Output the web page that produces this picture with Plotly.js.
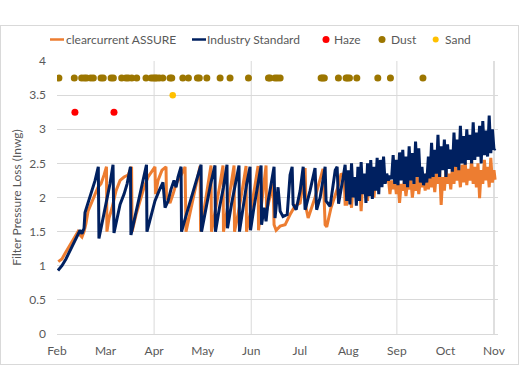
<!DOCTYPE html>
<html><head><meta charset="utf-8">
<script src="https://cdn.plot.ly/plotly-3.0.1.min.js"></script>
<style>
html,body{margin:0;padding:0;background:#fff;}
#wrap{position:relative;width:519px;height:372px;overflow:hidden;}
#chart{width:519px;height:372px;}
#border{position:absolute;left:0;top:25px;width:517px;height:338px;border:1px solid #D9D9D9;pointer-events:none;}
</style></head><body>
<div id="wrap"><div id="chart"></div><div id="border"></div></div>
<script>
// ---------- DATA (x = days since 1 Feb) ----------
const tickLabels = ['Feb','Mar','Apr','May','Jun','Jul','Aug','Sep','Oct','Nov'];
const tickDays = [0,30.33,60.67,91,121.33,151.67,182,212.33,242.67,273];
const gridDays = [60.67,121.33,212.33];
const edgeDay = 273;

const assureDays = [0.8,3.1,5,8.1,11.2,13.1,14.4,15.6,16.9,18.1,19.4,21.9,23.8,25.6,27.5,29.4,30.9,31.2,32.5,34.4,36.9,39.4,41.9,44.4,46.6,46.9,49.4,51.9,54.4,56.9,59.4,61.2,61.6,63.1,65.6,68.1,68.4,70.6,72.5,74.4,76.9,80,80.6,83.5,86.5,89.4,89.7,92,94,96.2,96.5,99,101.5,103.7,104,106.5,108.5,110.6,110.9,113.5,116,118.1,118.4,121,123.5,125.6,125.9,128.5,130.6,130.9,133,135,135.6,136.9,139.4,142.5,145.6,148.8,151.9,153.8,155,155.6,156.9,161.2,164.4,166.2,167.5,168.5,171.2,173.8,175.6,177.5,179.4,180,
181,182,183,184,185,186,187,188,189,190,191,192,193,194,195,196,197,198,199,200,201,202,203,204,205,206,207,208,209,210,211,212,213,214,215,216,217,218,219,220,221,222,223,224,225,226,227,228,229,230,231,232,233,234,235,236,237,238,239,240,241,242,243,244,245,246,247,248,249,250,251,252,253,254,255,256,257,258,259,260,261,262,263,264,265,266,267,268,269,270,271,272,273,273.7];
const assureVals = [1.06,1.1,1.18,1.3,1.43,1.5,1.45,1.42,1.5,1.62,1.8,1.93,2.05,2.15,2.2,2.33,2.45,1.5,1.7,1.85,2.1,2.25,2.3,2.33,2.45,1.5,1.75,1.95,2.15,2.3,2.38,2.45,2.05,2.25,2.4,2.45,2.0,1.92,2.05,2.2,2.3,2.45,1.5,1.8,2.15,2.46,1.5,1.85,2.15,2.47,1.5,1.8,2.15,2.47,1.5,1.85,2.15,2.47,1.5,1.8,2.15,2.46,1.5,1.8,2.15,2.46,1.52,2.05,2.47,1.8,2.0,2.2,1.6,1.52,1.58,1.6,1.75,1.88,1.92,2.2,2.43,1.85,1.7,2.0,2.25,2.42,1.6,1.57,1.85,2.05,2.16,2.35,2.3,1.9,
1.9,2.25,2.0,1.85,2.2,2.05,2.3,1.95,2.2,1.8,2.25,2.1,2.3,1.95,2.28,2.1,2.3,2.0,2.25,2.15,2.3,2.2,2.28,2.22,2.3,2.25,2.28,2.05,2.25,2.12,2.26,2.05,2.22,1.92,2.2,2.1,2.25,2.02,2.22,2.12,2.28,2.0,2.2,2.1,2.3,2.05,2.25,2.15,2.3,2.1,2.35,2.12,2.4,2.15,2.32,2.08,2.38,2.2,2.42,1.89,2.3,2.1,2.4,2.2,2.35,2.12,2.45,2.2,2.5,2.25,2.4,2.15,2.48,2.22,2.52,2.18,2.42,2.25,2.55,2.2,2.45,2.15,2.5,1.99,2.4,2.2,2.55,2.25,2.45,2.15,2.58,2.22,2.4,2.26];

const stdDays = [0.6,3.1,5.6,8.1,10.6,13.1,14.4,15.6,16.9,17.5,19.4,21.9,23.8,25.8,26.2,27.5,29.4,31.2,33.1,35.0,35.6,37.5,39.4,41.9,43.8,45.9,46.2,48.1,50,52.5,54.4,55.9,56.2,58.8,61.2,63.8,66.2,67.5,69.4,71.2,73.1,74.4,75.6,77.5,77.8,80.8,84,87,90,90.3,93,96,98.7,99,101.5,104,106.2,106.5,109,111.5,113.7,114,116.5,118.5,120.6,120.9,123,125.5,127.5,127.8,129.4,130.6,131.9,133.8,135.6,136.2,138.1,139.4,141.2,143.8,145.6,146.9,147.5,149.4,151.9,153.8,155,158.1,161.2,162.2,164.4,167.5,168.1,170.6,173.8,175,175.9,178.8,180,
181,182,183,184,185,186,187,188,189,190,191,192,193,194,195,196,197,198,199,200,201,202,203,204,205,206,207,208,209,210,211,212,213,214,215,216,217,218,219,220,221,222,223,224,225,226,227,228,229,230,231,232,233,234,235,236,237,238,239,240,241,242,243,244,245,246,247,248,249,250,251,252,253,254,255,256,257,258,259,260,261,262,263,264,265,266,267,268,269,270,271,272,273,273.7];
const stdVals = [0.93,1.0,1.1,1.22,1.33,1.45,1.52,1.47,1.55,1.78,1.93,2.1,2.25,2.45,1.40,1.55,1.75,1.98,2.2,2.48,1.48,1.7,1.9,2.05,2.2,2.45,1.45,1.65,1.85,2.1,2.3,2.48,1.5,1.75,1.95,2.1,2.22,1.85,1.95,2.12,2.25,2.15,2.3,2.45,1.5,1.75,2.0,2.25,2.48,1.5,1.85,2.2,2.47,1.5,1.85,2.15,2.48,1.55,1.9,2.2,2.47,1.5,1.9,2.2,2.45,1.52,1.85,2.2,2.47,1.6,1.85,1.65,1.95,2.2,2.45,1.7,2.15,1.8,1.72,1.75,2.33,2.45,1.9,1.82,2.1,2.45,1.82,2.1,2.43,1.82,2.0,2.45,1.95,1.87,2.4,2.45,1.91,2.3,2.48,
1.95,2.4,1.9,2.5,2.0,2.3,1.88,2.45,1.95,2.52,2.05,2.35,1.92,2.5,2.02,2.55,1.98,2.45,2.1,2.58,2.05,2.55,2.15,2.6,2.2,2.35,2.25,2.32,2.27,2.62,2.2,2.55,2.18,2.66,2.25,2.7,2.2,2.6,2.15,2.75,2.25,2.65,2.2,2.82,2.3,2.72,2.22,2.45,2.18,2.35,2.22,2.6,2.28,2.8,2.3,2.7,2.35,2.92,2.3,2.75,2.4,2.85,2.3,2.78,2.42,2.7,2.38,2.95,2.45,2.85,2.4,3.05,2.5,2.9,2.48,3.0,2.55,2.92,2.5,3.1,2.55,2.95,2.6,3.05,2.5,3.12,2.62,2.98,2.6,3.2,2.65,3.0,2.7,2.72];

const hazeDays = [11.2,35.6];
const hazeVals = [3.25,3.25];
const dustDays = [1.2,10.8,15.4,17.1,18.5,21.1,22.7,27.5,28.9,33.8,35.2,40.4,43.1,44.5,46.7,49.8,55.6,58.8,60.2,61.3,62.3,63.9,66.1,70.6,71.7,78.6,82.1,87.7,88.9,93.6,101.9,108.1,119.6,132.1,133.1,136.2,137.7,139.4,165,166,167,175.8,180.6,181.5,182.7,187.3,200.4,208.3,228.6];
const dustVals = dustDays.map(()=>3.75);
const sandDays = [72.3];
const sandVals = [3.5];

const seriesNames = ['clearcurrent ASSURE','Industry Standard','Haze','Dust','Sand'];
const seriesColors = ['#ED7D31','#002060','#FF0000','#9C7600','#FFC000'];

// ---------- LAYOUT ----------
const W=519,H=372,ML=57,MR=21,MT=61,MB=38;
const PW=W-ML-MR, PH=H-MT-MB;
const fx = px => (px-ML)/PW;
const fy = py => (H-MB-py)/PH;
const FONT = 'Lato, "Liberation Sans", Arial, sans-serif';
const TXT = '#595959';

const traces = [
  {type:'scatter',mode:'lines',x:assureDays,y:assureVals,name:seriesNames[0],line:{color:seriesColors[0],width:3},hoverinfo:'skip'},
  {type:'scatter',mode:'lines',x:stdDays,y:stdVals,name:seriesNames[1],line:{color:seriesColors[1],width:3},hoverinfo:'skip'},
  {type:'scatter',mode:'markers',x:hazeDays,y:hazeVals,name:seriesNames[2],marker:{color:seriesColors[2],size:7},hoverinfo:'skip'},
  {type:'scatter',mode:'markers',x:dustDays,y:dustVals,name:seriesNames[3],marker:{color:seriesColors[3],size:7},hoverinfo:'skip'},
  {type:'scatter',mode:'markers',x:sandDays,y:sandVals,name:seriesNames[4],marker:{color:seriesColors[4],size:6.5},hoverinfo:'skip'}
];

const shapes = [];
gridDays.forEach(d=>shapes.push({type:'line',xref:'x',yref:'y',x0:d,x1:d,y0:0,y1:4,layer:'below',line:{color:'#D9D9D9',width:1}}));
shapes.push({type:'line',xref:'x',yref:'y',x0:edgeDay,x1:edgeDay,y0:0,y1:4,layer:'below',line:{color:'#BFBFBF',width:1}});

// custom legend (Excel style, short line keys)
const legY = 39.5;
const legendItems = [
  {kind:'line',x0:50,x1:64,tx:64,i:0},
  {kind:'line',x0:192,x1:206,tx:205,i:1},
  {kind:'dot',cx:326,r:3.5,tx:332,i:2},
  {kind:'dot',cx:382,r:3.5,tx:388.5,i:3},
  {kind:'dot',cx:435.7,r:3,tx:442.5,i:4}
];
const annotations = [];
legendItems.forEach(it=>{
  if(it.kind==='line'){
    shapes.push({type:'line',xref:'paper',yref:'paper',x0:fx(it.x0),x1:fx(it.x1),y0:fy(legY),y1:fy(legY),line:{color:seriesColors[it.i],width:2.5}});
  } else {
    shapes.push({type:'circle',xref:'paper',yref:'paper',x0:fx(it.cx-it.r),x1:fx(it.cx+it.r),y0:fy(legY+it.r),y1:fy(legY-it.r),fillcolor:seriesColors[it.i],line:{width:0}});
  }
  annotations.push({xref:'paper',yref:'paper',x:fx(it.tx),y:fy(legY),xanchor:'left',yanchor:'middle',showarrow:false,text:seriesNames[it.i],font:{family:FONT,size:12,color:TXT}});
});

const layout = {
  width:W,height:H,
  margin:{l:ML,r:MR,t:MT,b:MB,pad:0},
  paper_bgcolor:'#ffffff',plot_bgcolor:'#ffffff',
  showlegend:false,
  font:{family:FONT,size:12,color:TXT},
  xaxis:{range:[0,275.5],tickmode:'array',tickvals:tickDays,ticktext:tickLabels,showgrid:false,zeroline:false,showline:false,ticks:'',
         tickfont:{family:FONT,size:12,color:TXT},ticklabelstandoff:8,automargin:false,fixedrange:true},
  yaxis:{range:[0,4],tick0:0,dtick:0.5,showgrid:true,gridcolor:'#D9D9D9',gridwidth:1,zeroline:true,zerolinecolor:'#D9D9D9',zerolinewidth:1,
         showline:false,ticks:'',tickfont:{family:FONT,size:12,color:TXT},ticklabelstandoff:10,automargin:false,fixedrange:true,
         title:{text:'Filter Pressure Loss (Inwg)',font:{family:FONT,size:12,color:TXT},standoff:5}},
  shapes:shapes,
  annotations:annotations
};

Plotly.newPlot('chart',traces,layout,{staticPlot:true,displayModeBar:false});
</script>
</body></html>
